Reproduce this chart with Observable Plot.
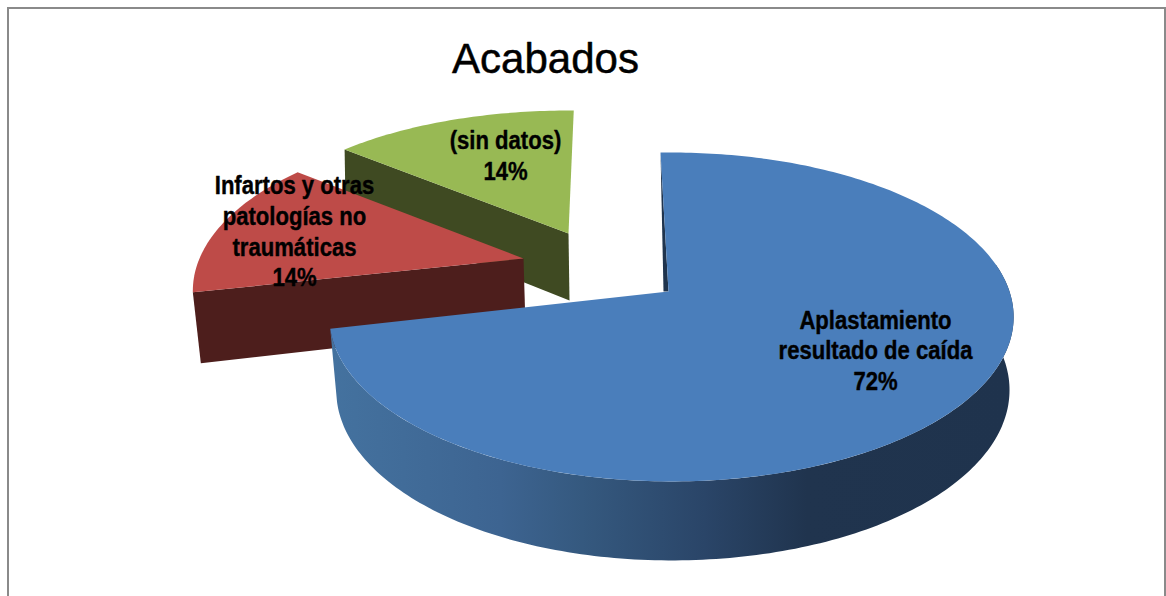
<!DOCTYPE html>
<html lang="es">
<head>
<meta charset="utf-8">
<title>Acabados</title>
<script src="https://cdn.jsdelivr.net/npm/d3@7"></script>
<script src="https://cdn.jsdelivr.net/npm/@observablehq/plot@0.6"></script>
<style>
  html, body { margin: 0; padding: 0; background: #fff; overflow: hidden; }
  #wrap { position: relative; width: 1166px; height: 596px; }
  #frame { position: absolute; left: 7px; top: 7px; right: 0; bottom: 0;
           border: solid #8a8a8a; border-width: 2.5px 2.5px 0 2.5px; pointer-events: none; }
  svg { display: block; }
</style>
</head>
<body>
<div id="wrap"><div id="frame"></div></div>
<script>
// Data
const title = "Acabados";
const categories = ["Aplastamiento\nresultado de caída", "Infartos y otras\npatologías no\ntraumáticas", "(sin datos)"];
const values = [72, 14, 14];

// Styling and projection of each exploded slice (not data)
const topColors = ["#4a7ebb", "#be4b48", "#98b954"];
const cutColors = ["#1f344e", "#4d1e1c", "#3f4a22"];
const layouts = [
  {cx: 671, cy: 291, ax: 668, ay: 291, b: 338, a: 160.5, k: 0.155, start: -2.15, labelX: 875, labelY: 349},
  {cx: 523, cy: 258, ax: 523, ay: 258, b: 324, a: 156, k: 0.2, start: 258, labelX: 294, labelY: 230,
   cut: {cornerDx: 8, cornerDy: 71, apexDx: 2, apexDy: 68}},
  {cx: 568, cy: 233, ax: 568, ay: 233, b: 325, a: 142, k: 0.155, start: 310.67, labelX: 505, labelY: 154,
   cut: {cornerDx: 1, cornerDy: 62, apexDx: 1, apexDy: 67}}
];
const total = d3.sum(values);

const point = (l, deg) => {
  const t = deg * Math.PI / 180, X = Math.sin(t), Y = -Math.cos(t), w = 1 - l.k * Y;
  return {x: l.cx + l.b * X / w, y: l.cy + l.a * Y / w, Y};
};
const sweep = (a0, a1) => { const n = Math.ceil(Math.abs(a1 - a0)); return d3.range(n + 1).map(i => a0 + (a1 - a0) * i / n); };

const slices = values.map((v, i) => {
  const l = layouts[i], span = v / total * 360, arc = sweep(l.start, l.start + span).map(d => point(l, d));
  return {l, span, arc, top: [{x: l.ax, y: l.ay}, ...arc]};
});

// Outer wall of the large slice
const blue = slices[0];
const wallDepth = Y => 72 + 7 * Y;
const wallTop = sweep(80, blue.l.start + blue.span).map(d => point(blue.l, d));
const wallBottom = wallTop.map(p => ({
  x: blue.l.cx + (p.x - blue.l.cx) * (p.x > blue.l.cx ? 0.988 : 0.98),
  y: p.y + wallDepth(p.Y)
}));
const wall = [...wallTop, ...wallBottom.reverse()];
const corner = blue.arc[0];
const sliver = [corner, {x: blue.l.ax - 5, y: blue.l.ay}, {x: blue.l.ax, y: blue.l.ay}];

// Cut faces of the two small slices
const cutFace = s => {
  const c = s.arc[0], k = s.l.cut;
  return [c, {x: s.l.ax, y: s.l.ay}, {x: s.l.ax + k.apexDx, y: s.l.ay + k.apexDy}, {x: c.x + k.cornerDx, y: c.y + k.cornerDy}];
};

const polygon = (pts, fill) => Plot.line(pts, {x: "x", y: "y", fill, stroke: "none"});

const defs = () => {
  const d = d3.create("svg:defs");
  const g = d.append("linearGradient").attr("id", "wallFill")
    .attr("gradientUnits", "userSpaceOnUse").attr("x1", 330).attr("x2", 1010).attr("y1", 0).attr("y2", 0);
  [[0, "#44729f"], [0.25, "#3d6491"], [0.37, "#35597f"], [0.55, "#2a4568"], [0.7, "#20344e"], [1, "#1f334d"]]
    .forEach(([o, c]) => g.append("stop").attr("offset", o).attr("stop-color", c));
  return d.node();
};

const labels = slices.map((s, i) => ({
  text: `${categories[i]}\n${values[i]}%`, x: s.l.labelX, y: s.l.labelY
}));

const chart = Plot.plot({
  width: 1166, height: 596, margin: 0,
  x: {domain: [0, 1166], range: [0, 1166], axis: null},
  y: {domain: [0, 596], range: [0, 596], axis: null},
  style: {background: "transparent"},
  marks: [
    defs,
    polygon(cutFace(slices[2]), cutColors[2]),
    polygon(slices[2].top, topColors[2]),
    polygon(cutFace(slices[1]), cutColors[1]),
    polygon(slices[1].top, topColors[1]),
    polygon(sliver, cutColors[0]),
    polygon(wall, "url(#wallFill)"),
    polygon(blue.top, topColors[0]),
    Plot.text(labels, {
      x: "x", y: "y", text: "text", fill: "#000", stroke: "#000", strokeWidth: 0.4,
      fontFamily: "Liberation Sans", fontWeight: "bold", fontSize: 26, lineHeight: 1.18,
      textAnchor: "middle", lineAnchor: "middle", className: "pie-label"
    }),
    Plot.text([title], {
      x: () => 545, y: () => 59, text: d => d, fill: "#000", stroke: "#000", strokeWidth: 0.5,
      fontFamily: "Liberation Sans", fontSize: 42, textAnchor: "middle", lineAnchor: "middle"
    })
  ]
});
// The reference's labels are condensed: squeeze each one horizontally about its anchor
chart.querySelectorAll(".pie-label text").forEach(t => {
  t.setAttribute("transform", `${t.getAttribute("transform") || ""} scale(0.85,1)`);
});
document.getElementById("wrap").prepend(chart);
</script>
</body>
</html>
